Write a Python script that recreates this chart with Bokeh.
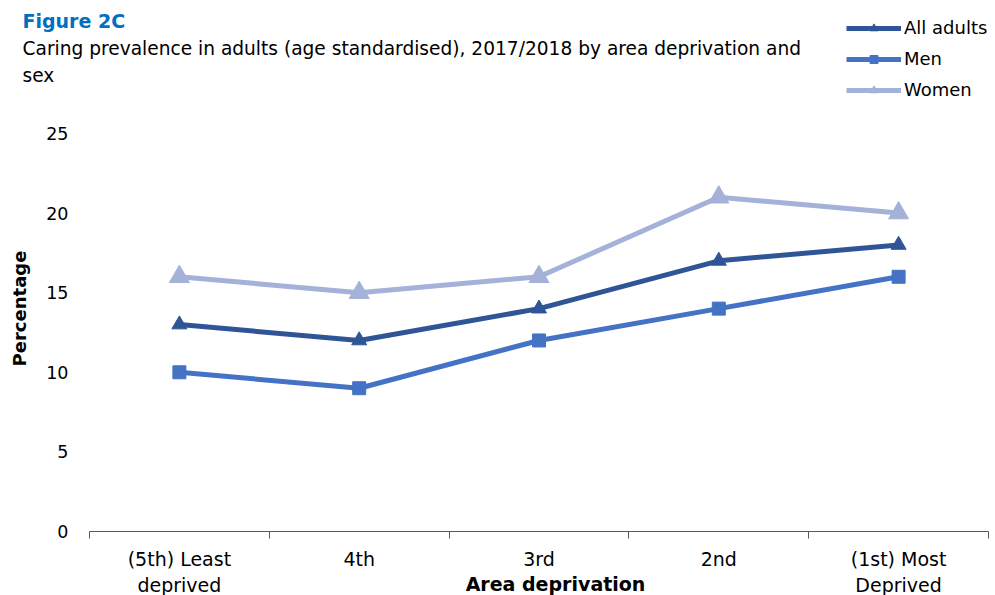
import math
from bokeh.plotting import figure
from bokeh.models import Range1d, FixedTicker, Legend, LegendItem, LinearAxis, Label
from bokeh.embed import file_html
from bokeh.resources import INLINE

categories = ["(5th) Least\ndeprived", "4th", "3rd", "2nd", "(1st) Most\nDeprived"]
all_adults = [13, 12, 14, 17, 18]
men = [10, 9, 12, 14, 16]
women = [16, 15, 16, 21, 20]
y_ticks = [0, 5, 10, 15, 20, 25]

FONT = "DejaVu Sans"
x = list(range(len(categories)))

# frame covers the whole canvas; axes are drawn at fixed locations inside it
XPX = 179.8   # px per category
YPX = 15.92   # px per percentage point
X0 = 89       # canvas px of x=-0.5
Y0 = 531      # canvas px of y=0
W, H = 995, 595
x_lo = -0.5 - X0 / XPX
x_hi = -0.5 + (W - X0) / XPX
y_lo = -(H - Y0) / YPX
y_hi = Y0 / YPX

def cx(px):
    return -0.5 + (px - X0) / XPX

def cy(py):
    return (Y0 - py) / YPX

p = figure(width=W, height=H, output_backend="svg", toolbar_location=None,
           x_range=Range1d(x_lo, x_hi), y_range=Range1d(y_lo, y_hi),
           min_border=0, min_border_left=0, min_border_right=0, min_border_top=0, min_border_bottom=0,
           x_axis_type=None, y_axis_type=None)
p.outline_line_color = None
p.grid.visible = False

c_all = "#2F5597"
c_men = "#4472C4"
c_wom = "#A4B1D8"

r_w_l = p.line(x, women, line_color=c_wom, line_width=5)
r_w_m = p.scatter(x, women, marker="triangle", size=20, color=c_wom)
r_a_l = p.line(x, all_adults, line_color=c_all, line_width=5)
r_a_m = p.scatter(x, all_adults, marker="triangle", size=15, color=c_all)
r_m_l = p.line(x, men, line_color=c_men, line_width=5)
r_m_m = p.scatter(x, men, marker="square", size=13, color=c_men)

# x axis at y = 0
edges = [i - 0.5 for i in range(len(categories) + 1)]
xa = LinearAxis(ticker=FixedTicker(ticks=x, minor_ticks=edges),
                fixed_location=0, bounds=(edges[0], edges[-1]))
xa.major_label_overrides = {i: c for i, c in enumerate(categories)}
xa.major_tick_line_color = None
xa.major_tick_out = 0
xa.major_tick_in = 0
xa.minor_tick_out = 7
xa.minor_tick_in = 0
xa.minor_tick_line_color = "#595959"
xa.axis_line_color = "#595959"
xa.major_label_text_font = FONT
xa.major_label_text_font_size = "19px"
xa.major_label_text_color = "#000000"
xa.major_label_standoff = 9
xa.major_label_text_line_height = 1.2
p.add_layout(xa, "below")

# y axis at x = -0.5
ya = LinearAxis(ticker=FixedTicker(ticks=y_ticks), fixed_location=-0.5)
ya.axis_line_color = None
ya.major_tick_line_color = None
ya.major_tick_out = 0
ya.major_tick_in = 0
ya.minor_tick_line_color = None
ya.major_label_text_font = FONT
ya.major_label_text_font_size = "17.5px"
ya.major_label_text_color = "#000000"
ya.major_label_standoff = 21
p.add_layout(ya, "left")

p.add_layout(Label(x=cx(19), y=cy(308), text="Percentage", angle=math.pi / 2,
                   text_font=FONT, text_font_style="bold", text_font_size="18px", text_color="#000000",
                   text_align="center", text_baseline="middle"))
p.add_layout(Label(x=cx(555), y=cy(583), text="Area deprivation",
                   text_font=FONT, text_font_style="bold", text_font_size="19px", text_color="#000000",
                   text_align="center", text_baseline="middle"))
p.add_layout(Label(x=cx(22), y=cy(20), text="Figure 2C",
                   text_font=FONT, text_font_style="bold", text_font_size="19px",
                   text_color="#0070C0", text_baseline="middle"))
p.add_layout(Label(x=cx(22), y=cy(48),
                   text="Caring prevalence in adults (age standardised), 2017/2018 by area deprivation and",
                   text_font=FONT, text_font_size="18.6px", text_color="#000000", text_baseline="middle"))
p.add_layout(Label(x=cx(22), y=cy(75), text="sex",
                   text_font=FONT, text_font_size="18.6px", text_color="#000000", text_baseline="middle"))

legend = Legend(items=[
    LegendItem(label="All adults", renderers=[r_a_l, r_a_m]),
    LegendItem(label="Men", renderers=[r_m_l, r_m_m]),
    LegendItem(label="Women", renderers=[r_w_l, r_w_m]),
], location=(846, 495))
legend.glyph_width = 55
legend.glyph_height = 20
legend.label_height = 20
legend.label_text_font = FONT
legend.label_text_font_size = "18px"
legend.label_text_color = "#000000"
legend.label_standoff = 3
legend.spacing = 10
legend.padding = 2
legend.margin = 0
legend.border_line_color = None
legend.background_fill_alpha = 0
p.add_layout(legend, "center")

open("out.html", "w").write(file_html(p, INLINE))
